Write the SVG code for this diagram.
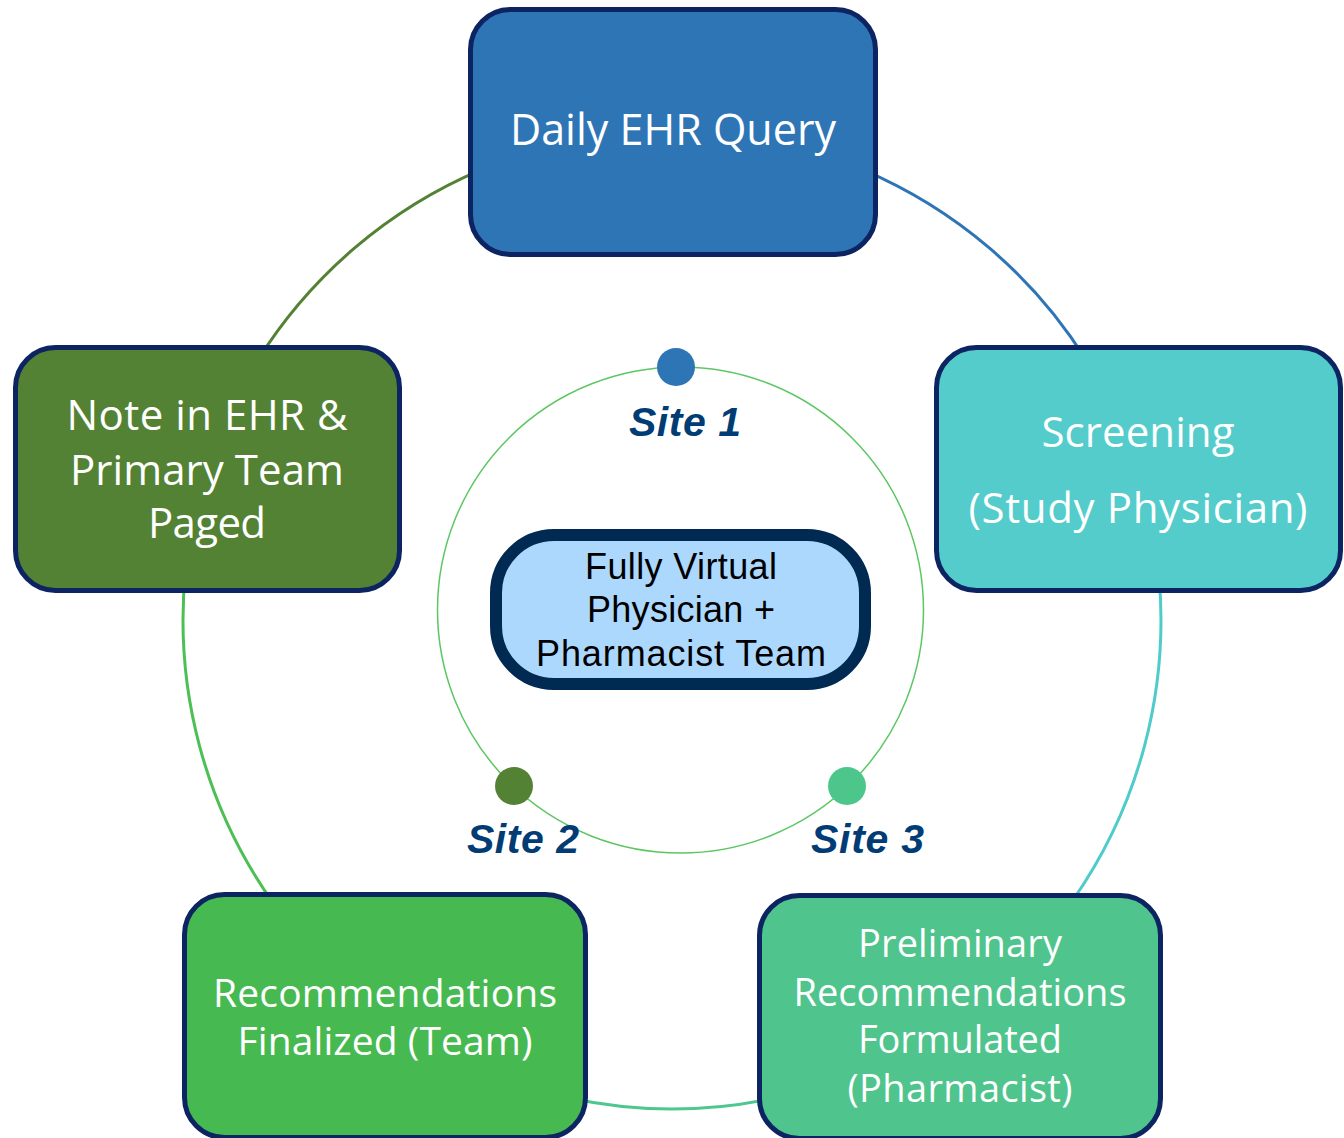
<svg xmlns="http://www.w3.org/2000/svg" width="1344" height="1138" viewBox="0 0 1344 1138">
  <style>
    .box { stroke: #0C2462; stroke-width: 5; }
    .lbl { font-family: "Open Sans", "Noto Sans", sans-serif; fill: #FFFFFF; text-anchor: middle; }
    .ring { fill: none; stroke-width: 3; }
    .site { font-family: "Liberation Sans", Arial, sans-serif; font-weight: bold; font-style: italic; font-size: 41px; fill: #013C75; }
    .core { font-family: "Liberation Sans", Arial, sans-serif; font-size: 36px; fill: #000000; text-anchor: middle; }
  </style>
  <rect width="1344" height="1138" fill="#FFFFFF"/>

  <!-- outer cycle arcs, one per step -->
  <g id="connectors">
    <path class="ring" stroke="#548235" d="M 257.3 360.9 A 489 489 0 0 1 480.9 169.9"/>
    <path class="ring" stroke="#2E75B6" d="M 863.1 169.9 A 489 489 0 0 1 1086.7 360.9"/>
    <path class="ring" stroke="#4FCBCB" d="M 1159.1 577.4 A 489 489 0 0 1 1072.6 900.5"/>
    <path class="ring" stroke="#4EC78E" d="M 773.7 1098.3 A 489 489 0 0 1 570.3 1098.3"/>
    <path class="ring" stroke="#4CBF55" d="M 276.4 907.4 A 489 489 0 0 1 185.7 568.9"/>
  </g>

  <!-- inner site ring -->
  <g id="sites">
    <circle cx="680.5" cy="610" r="243" fill="none" stroke="#5CC762" stroke-width="1.5"/>
    <circle cx="676" cy="367" r="19" fill="#2E75B6"/>
    <circle cx="514" cy="786" r="19" fill="#548235"/>
    <circle cx="847" cy="786" r="19" fill="#4DC68C"/>
    <text class="site" x="629" y="436" textLength="112">Site 1</text>
    <text class="site" x="467" y="853" textLength="112">Site 2</text>
    <text class="site" x="811" y="853" textLength="113">Site 3</text>
  </g>

  <g id="daily-ehr-query">
    <rect class="box" x="470.5" y="9.5" width="405" height="245" rx="40" fill="#2E75B6"/>
    <text class="lbl" x="673" y="145" font-size="43" textLength="326">Daily EHR Query</text>
  </g>

  <g id="screening">
    <rect class="box" x="936.5" y="347.5" width="404" height="243" rx="40" fill="#53CCCB"/>
    <text class="lbl" x="1138" y="447" font-size="42" textLength="193">Screening</text>
    <text class="lbl" x="1138" y="523" font-size="42" textLength="339">(Study Physician)</text>
  </g>

  <g id="preliminary-recommendations">
    <rect class="box" x="759.5" y="895.5" width="401" height="243" rx="40" fill="#4FC48D"/>
    <text class="lbl" x="960" y="957" font-size="38" textLength="204">Preliminary</text>
    <text class="lbl" x="960" y="1006" font-size="38" textLength="333">Recommendations</text>
    <text class="lbl" x="960" y="1053" font-size="38" textLength="204">Formulated</text>
    <text class="lbl" x="960" y="1102" font-size="38" textLength="225">(Pharmacist)</text>
  </g>

  <g id="recommendations-finalized">
    <rect class="box" x="184.5" y="894.5" width="401" height="243" rx="40" fill="#47B951"/>
    <text class="lbl" x="385" y="1007" font-size="39" textLength="344">Recommendations</text>
    <text class="lbl" x="385" y="1055" font-size="39" textLength="295">Finalized (Team)</text>
  </g>

  <g id="note-in-ehr">
    <rect class="box" x="15.5" y="347.5" width="384" height="243" rx="40" fill="#548235"/>
    <text class="lbl" x="207" y="430" font-size="42" textLength="281">Note in EHR &amp;</text>
    <text class="lbl" x="207" y="485" font-size="42" textLength="274">Primary Team</text>
    <text class="lbl" x="207" y="538" font-size="42" textLength="118">Paged</text>
  </g>

  <g id="virtual-team">
    <rect x="496" y="535" width="369" height="149" rx="58" fill="#ADD8FE" stroke="#012A52" stroke-width="12"/>
    <text class="core" x="681" y="579" textLength="192">Fully Virtual</text>
    <text class="core" x="681" y="622" textLength="188">Physician +</text>
    <text class="core" x="681" y="666" textLength="290">Pharmacist Team</text>
  </g>
</svg>
